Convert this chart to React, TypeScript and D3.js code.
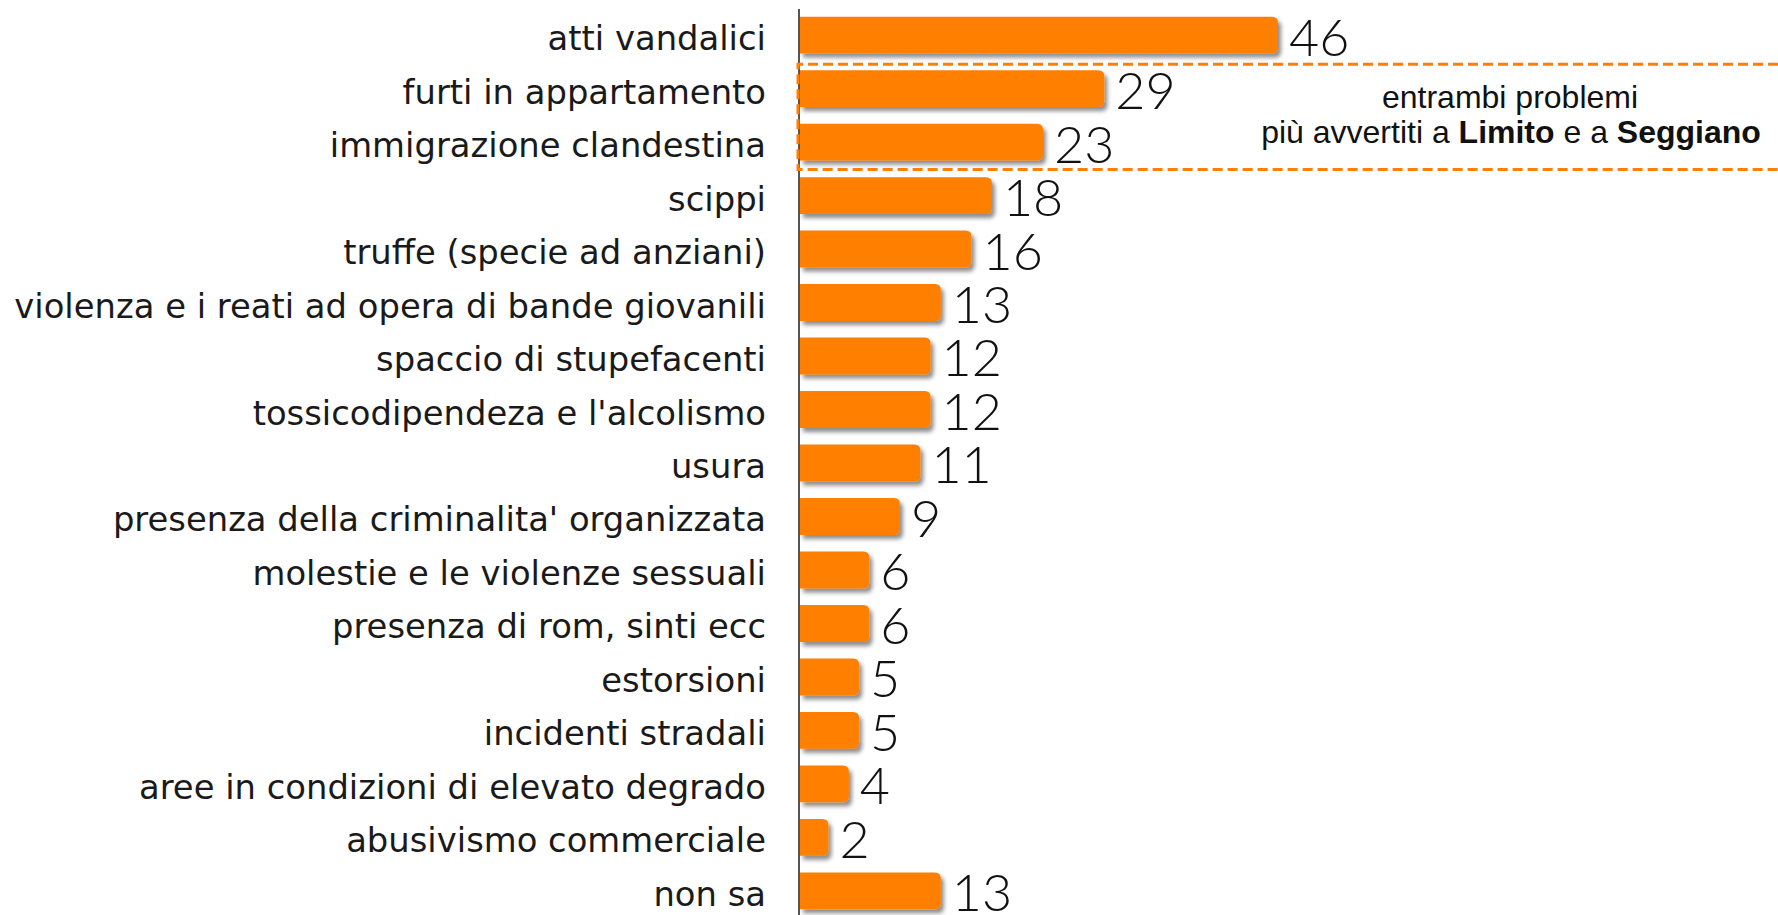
import React, { useLayoutEffect, useRef, useState } from "react";
import * as d3 from "d3";

const categories = [
  "atti vandalici",
  "furti in appartamento",
  "immigrazione clandestina",
  "scippi",
  "truffe (specie ad anziani)",
  "violenza e i reati ad opera di bande giovanili",
  "spaccio di stupefacenti",
  "tossicodipendeza e l'alcolismo",
  "usura",
  "presenza della criminalita' organizzata",
  "molestie e le violenze sessuali",
  "presenza di rom, sinti ecc",
  "estorsioni",
  "incidenti stradali",
  "aree in condizioni di elevato degrado",
  "abusivismo commerciale",
  "non sa",
];
const values = [46, 29, 23, 18, 16, 13, 12, 12, 11, 9, 6, 6, 5, 5, 4, 2, 13];
const noteLine1 = "entrambi problemi";
const noteLine2Parts = [
  { t: "più avvertiti a ", b: false },
  { t: "Limito", b: true },
  { t: " e a ", b: false },
  { t: "Seggiano", b: true },
];
const highlighted = ["furti in appartamento", "immigrazione clandestina"];

const W = 1778;
const H = 915;
const axisX = 800;
const ORANGE = "#ff7f00";
const LABEL_FONT = "'DejaVu Sans', 'Noto Sans', sans-serif";
const VALUE_FONT = "Lato, 'Open Sans', sans-serif";
const NOTE_FONT = "'Liberation Sans', Arial, sans-serif";

export default function App() {
  const [labelSize, setLabelSize] = useState(32);
  const longestRef = useRef<SVGTextElement>(null);

  useLayoutEffect(() => {
    const el = longestRef.current;
    if (!el) return;
    const len = el.getComputedTextLength();
    const target = 752;
    if (len > 0 && Math.abs(len - target) > 1) {
      setLabelSize((s) => (s * target) / len);
    }
  }, [labelSize]);

  const longest = categories.reduce((a, b) => (b.length > a.length ? b : a));

  const y = d3
    .scaleBand<string>()
    .domain(categories)
    .range([-1.5, 927.5])
    .paddingInner(0.31)
    .paddingOuter(0.34);
  const x = d3.scaleLinear().domain([0, 46]).range([8, 478]);
  const bh = y.bandwidth();
  const r = 6;

  const barPath = (len: number) => {
    const rr = Math.min(r, len / 2);
    return `M0,0 H${len - rr} Q${len},0 ${len},${rr} V${bh - rr} Q${len},${bh} ${len - rr},${bh} H0 Z`;
  };

  const hy0 = (y(highlighted[0]) as number) - 6;
  const hy1 = (y(highlighted[1]) as number) + bh + 9;
  const boxX = axisX - 2;

  return (
    <svg
      width={W}
      height={H}
      style={{ position: "absolute", left: 0, top: 0, background: "#fff" }}
    >
      <defs>
        <filter id="sh" x="-10%" y="-30%" width="130%" height="180%">
          <feDropShadow dx="3" dy="4" stdDeviation="2.2" floodColor="#000" floodOpacity="0.45" />
        </filter>
      </defs>
      {categories.map((c, i) => {
        const yy = y(c) as number;
        const len = x(values[i]);
        return (
          <g key={c}>
            <text
              ref={c === longest ? longestRef : undefined}
              x={766}
              y={yy + bh / 2 + 15}
              textAnchor="end"
              fontFamily={LABEL_FONT}
              fontSize={labelSize}
              fill="#1a1a1a"
            >
              {c}
            </text>
            <g transform={`translate(${axisX},${yy})`}>
              <path d={barPath(len)} fill={ORANGE} filter="url(#sh)" />
              <text
                x={len + 11}
                y={bh + 2}
                fontFamily={VALUE_FONT}
                fontWeight={300}
                fontSize={52}
                fill="#111"
              >
                {values[i]}
              </text>
            </g>
          </g>
        );
      })}
      <line x1={axisX - 1} x2={axisX - 1} y1={9} y2={H} stroke="#555" strokeWidth={2} />
      <path
        d={`M${W},${hy0} H${boxX} V${hy1} H${W}`}
        fill="none"
        stroke={ORANGE}
        strokeWidth={3}
        strokeDasharray="10 5"
      />
      <text
        x={1510}
        y={108}
        textAnchor="middle"
        fontFamily={NOTE_FONT}
        fontSize={32}
        fill="#111"
      >
        {noteLine1}
      </text>
      <text
        x={1511}
        y={143}
        textAnchor="middle"
        fontFamily={NOTE_FONT}
        fontSize={32}
        fill="#111"
      >
        {noteLine2Parts.map((p, i) => (
          <tspan key={i} fontWeight={p.b ? "bold" : "normal"}>
            {p.t}
          </tspan>
        ))}
      </text>
    </svg>
  );
}
